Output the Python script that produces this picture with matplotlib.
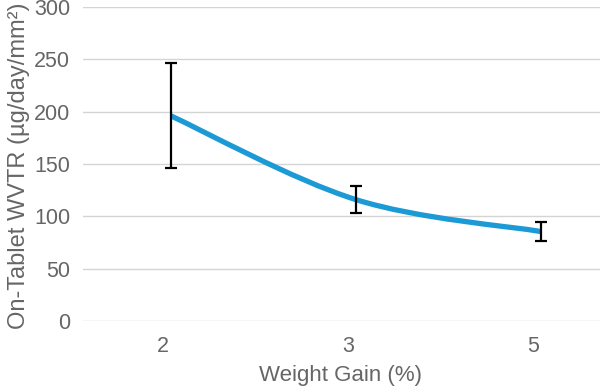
import numpy as np
import matplotlib.pyplot as plt
from matplotlib.path import Path
from matplotlib.patches import PathPatch
import matplotlib.transforms as mtransforms

categories = ['2', '3', '5']
wvtr = [196, 116, 85.5]
err = [50, 13, 9]

blue = '#1b9ad6'
grey = '#666666'

plt.rcParams['font.family'] = ['Liberation Sans', 'DejaVu Sans']

fig = plt.figure(figsize=(6, 3.87), dpi=100)
ax = fig.add_axes([0.138, 0.1705, 0.862, 0.8115])

x = np.arange(len(categories))
y = np.array(wvtr, dtype=float)


def smooth_path(xs, ys, t=0.3):
    # catmull-rom style bezier through the points
    verts = [(xs[0], ys[0])]
    codes = [Path.MOVETO]
    n = len(xs)
    for i in range(n - 1):
        x0, y0 = (xs[i - 1], ys[i - 1]) if i > 0 else (xs[i], ys[i])
        x3, y3 = (xs[i + 2], ys[i + 2]) if i + 2 < n else (xs[i + 1], ys[i + 1])
        c1 = (xs[i] + t * (xs[i + 1] - x0), ys[i] + t * (ys[i + 1] - y0))
        c2 = (xs[i + 1] - t * (x3 - xs[i]), ys[i + 1] - t * (y3 - ys[i]))
        verts += [c1, c2, (xs[i + 1], ys[i + 1])]
        codes += [Path.CURVE4] * 3
    return Path(verts, codes)


ax.add_patch(PathPatch(smooth_path(x, y, 0.17), facecolor='none',
                       edgecolor=blue, lw=3.8, capstyle='butt', zorder=3))
ax.errorbar(x, y, yerr=err, fmt='none', ecolor='black', elinewidth=1.6,
            capsize=4, capthick=1.6, zorder=4)

ax.set_xlim(-0.476, 2.32)
ax.set_ylim(0, 300)
ax.set_yticks(np.arange(0, 301, 50))
ax.set_xticks(x)
ax.set_xticklabels(categories)
ax.yaxis.grid(True, color='#d4d4d4', lw=1)
ax.set_axisbelow(True)
for s in ax.spines.values():
    s.set_visible(False)
ax.tick_params(axis='both', length=0, colors=grey, labelsize=15.5)
ax.tick_params(axis='y', pad=9)
ax.tick_params(axis='x', pad=11)
off = mtransforms.ScaledTranslation(-8 / 100, 0, fig.dpi_scale_trans)
for lab in ax.get_xticklabels():
    lab.set_transform(lab.get_transform() + off)

ax.set_ylabel('On-Tablet WVTR (µg/day/mm²)', color=grey, fontsize=17)
ax.set_xlabel('Weight Gain (%)', color=grey, fontsize=16)
ax.yaxis.set_label_coords(-0.103, 0.494)
ax.xaxis.set_label_coords(0.499, -0.14)

fig.savefig('out.png', dpi=100)
